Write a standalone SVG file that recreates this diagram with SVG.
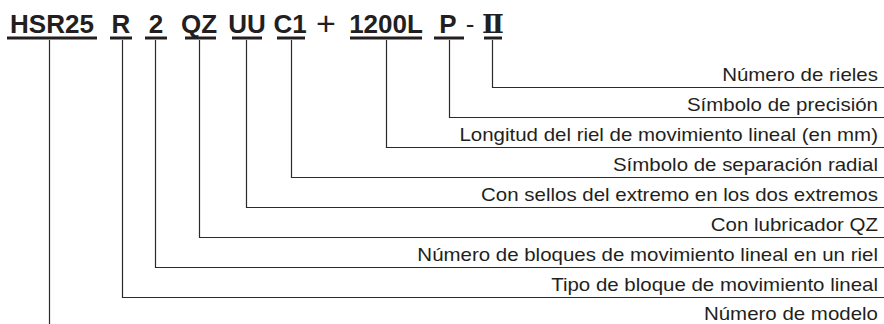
<svg xmlns="http://www.w3.org/2000/svg" width="884" height="324" viewBox="0 0 884 324">
<style>
.code{font-family:"Liberation Sans",Arial,sans-serif;font-weight:bold;font-size:26px;fill:#231f20;text-anchor:middle}
.sym{font-family:"Liberation Sans",Arial,sans-serif;fill:#231f20;text-anchor:middle}
.rom{font-family:"Liberation Serif","DejaVu Serif","Noto Sans CJK JP",serif;font-weight:bold;font-size:26px;fill:#231f20;text-anchor:middle}
.ul{stroke:#231f20;stroke-width:3;fill:none}
.lbl{font-family:"Liberation Sans",Arial,sans-serif;font-size:17.5px;fill:#231f20;text-anchor:end}
.cn{stroke:#2a2a2a;stroke-width:1.2;fill:none}
</style>
<rect width="884" height="324" fill="#ffffff"/>
<g id="code">
  <g id="n-hsr25"><text class="code" x="52" y="33">HSR25</text><line class="ul" x1="7" y1="38" x2="97" y2="38"/></g>
  <g id="n-r"><text class="code" x="121" y="33">R</text><line class="ul" x1="110" y1="38" x2="132" y2="38"/></g>
  <g id="n-2"><text class="code" x="156" y="33">2</text><line class="ul" x1="145" y1="38" x2="167" y2="38"/></g>
  <g id="n-qz"><text class="code" x="199" y="33">QZ</text><line class="ul" x1="185" y1="38" x2="216" y2="38"/></g>
  <g id="n-uu"><text class="code" x="247" y="33">UU</text><line class="ul" x1="232" y1="38" x2="262" y2="38"/></g>
  <g id="n-c1"><text class="code" x="290" y="33">C1</text><line class="ul" x1="277" y1="38" x2="305" y2="38"/></g>
  <g id="n-plus"><text class="sym" x="326" y="35" font-size="34">+</text></g>
  <g id="n-1200l"><text class="code" x="386" y="33">1200L</text><line class="ul" x1="350" y1="38" x2="422" y2="38"/></g>
  <g id="n-p"><text class="code" x="448" y="33">P</text><line class="ul" x1="434" y1="38" x2="464" y2="38"/></g>
  <g id="n-dash"><text class="sym" x="470" y="33" font-size="26">-</text></g>
  <g id="n-ii"><text class="rom" x="493" y="33">Ⅱ</text><line class="ul" x1="484" y1="38" x2="502" y2="38"/></g>
</g>
<g id="connectors">
  <path class="cn" d="M492.5 40V87.5H884"/>
  <path class="cn" d="M449.5 40V117.5H884"/>
  <path class="cn" d="M386.5 40V147.5H884"/>
  <path class="cn" d="M291.5 40V177.5H884"/>
  <path class="cn" d="M246.5 40V207.5H884"/>
  <path class="cn" d="M199.5 40V237.5H884"/>
  <path class="cn" d="M155.5 40V267.5H884"/>
  <path class="cn" d="M122.5 40V297.5H884"/>
  <path class="cn" d="M49.5 40V324"/>
</g>
<g id="labels" transform="scale(1.17 1)">
  <g id="l-rieles"><text class="lbl" x="750.4" y="81">Número de rieles</text></g>
  <g id="l-precision"><text class="lbl" x="750.4" y="111">Símbolo de precisión</text></g>
  <g id="l-longitud"><text class="lbl" x="750.4" y="141">Longitud del riel de movimiento lineal (en mm)</text></g>
  <g id="l-separacion"><text class="lbl" x="750.4" y="171">Símbolo de separación radial</text></g>
  <g id="l-sellos"><text class="lbl" x="750.4" y="201">Con sellos del extremo en los dos extremos</text></g>
  <g id="l-lubricador"><text class="lbl" x="750.4" y="231">Con lubricador QZ</text></g>
  <g id="l-bloques"><text class="lbl" x="750.4" y="261">Número de bloques de movimiento lineal en un riel</text></g>
  <g id="l-tipo"><text class="lbl" x="750.4" y="291">Tipo de bloque de movimiento lineal</text></g>
  <g id="l-modelo"><text class="lbl" x="750.4" y="320">Número de modelo</text></g>
</g>
</svg>
